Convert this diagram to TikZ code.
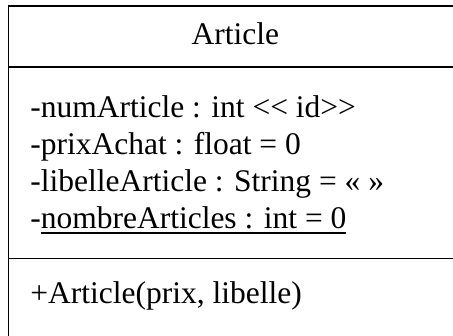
\documentclass[tikz,border=0pt]{standalone}
\usepackage{fontspec}
\setmainfont{Liberation Serif}
\newcommand{\umlFont}{\fontsize{31.5}{37}\selectfont}
\newcommand{\boxLeft}{8.5}
\newcommand{\boxTop}{6}
\newcommand{\boxRight}{462}
\newcommand{\boxBottom}{345}
\newcommand{\nameSep}{67}
\newcommand{\attrSep}{258.5}
\newcommand{\textLeft}{29.5}
\newcommand{\staticAttr}[1]{\setbox0=\hbox{#1}\rlap{\rule[-4.75pt]{\wd0}{1.5pt}}\box0}
\tikzset{
  umlText/.style={font=\umlFont, inner sep=0pt, anchor=base west},
}

\begin{document}
\begin{tikzpicture}[x=1pt, y=-1pt, line width=1.6pt]

      \clip (0,0) rectangle (453,336);

      \draw (\boxRight,\boxTop) -- (\boxLeft,\boxTop) -- (\boxLeft,\boxBottom);
      \draw (\boxLeft,\nameSep) -- (\boxRight,\nameSep);
      \draw (\boxLeft,\attrSep) -- (\boxRight,\attrSep);

      \node (title) [umlText, anchor=base] at ({(\boxLeft+\boxRight)/2}, 44.7) {Article};

\foreach \attrText [count=\i] in {{-numArticle : int <\kern0pt< id>\kern0pt>}, {-prixAchat : float = 0}, {-libelleArticle : String = « »}, {-\staticAttr{nombreArticles : int = 0}}}
      \node (attr\i) [umlText] at (\textLeft, {81+37*\i}) {\attrText};

      \node (ctor) [umlText] at (\textLeft, 304) {+Article(prix, libelle)};

   \end{tikzpicture}
\end{document}
